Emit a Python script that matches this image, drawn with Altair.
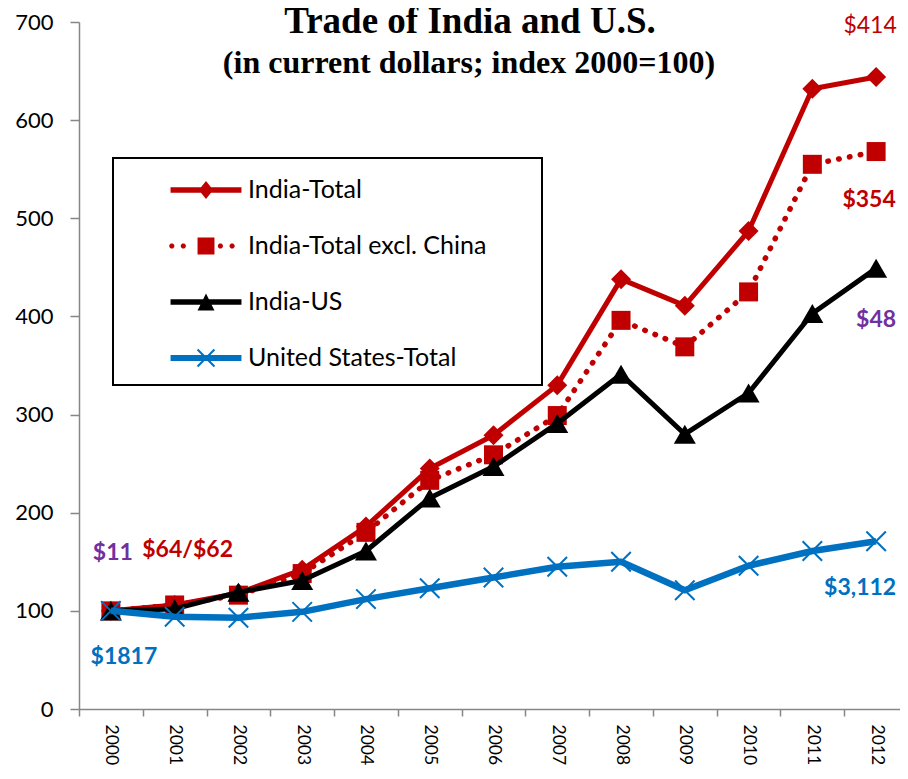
import math
import altair as alt
import pandas as pd

# ---------------- data ----------------
years = [str(y) for y in range(2000, 2013)]
series_names = ["India-Total", "India-Total excl. China", "India-US", "United States-Total"]
india_total = [100, 106, 118, 142, 186, 245, 279, 330, 438, 411, 487, 632, 644]
india_excl_china = [100, 106, 116, 138, 180, 233, 259, 299, 396, 369, 425, 555, 568]
india_us = [100, 102, 119, 131, 161, 215, 247, 291, 341, 280, 322, 403, 449]
us_total = [100, 94, 93, 99, 112, 123, 134, 145, 150, 121, 146, 161, 171]
series_colors = ["#C00000", "#C00000", "#000000", "#0070C0"]

df = pd.DataFrame({
    "year": years * 4,
    "series": [s for s in series_names for _ in years],
    "value": india_total + india_excl_china + india_us + us_total,
})

FONT = "Lato"
AXIS_GRAY = "#868686"

# ---------------- encodings ----------------
x_enc = alt.X(
    "year:O",
    bandPosition=0.5,
    scale=alt.Scale(type="band", paddingInner=0, paddingOuter=0),
    axis=alt.Axis(
        title=None, labelAngle=90, labelAlign="left", labelBaseline="middle",
        tickBand="extent", labelFont=FONT, labelFontSize=17.5, labelColor="black",
        domainColor=AXIS_GRAY, domainWidth=1.5, tickColor=AXIS_GRAY, tickWidth=1.5,
        tickSize=7, labelPadding=8, grid=False,
    ),
)
y_enc = alt.Y(
    "value:Q",
    scale=alt.Scale(domain=[0, 700], nice=False),
    axis=alt.Axis(
        title=None, values=list(range(0, 701, 100)), labelFont=FONT, labelFontSize=22,
        labelColor="black", domainColor=AXIS_GRAY, domainWidth=1.5, tickColor=AXIS_GRAY,
        tickWidth=1.5, tickSize=9, labelPadding=17, grid=False,
    ),
)

X_PATH = "M-1,-1L1,1M-1,1L1,-1"


def series_layers(name, color, line_kw, point_kw):
    base = alt.Chart(df).transform_filter(alt.datum.series == name)
    line = base.mark_line(color=color, strokeJoin="round", **line_kw).encode(x=x_enc, y=y_enc)
    pts = base.mark_point(color=color, opacity=1, **point_kw).encode(x=x_enc, y=y_enc)
    return [line, pts]


layers = []
layers += series_layers("India-Total", series_colors[0], dict(strokeWidth=5),
                        dict(shape="diamond", filled=True, size=400))
layers += series_layers("India-Total excl. China", series_colors[1],
                        dict(strokeWidth=5.5, strokeDash=[0.5, 10.5], strokeCap="round"),
                        dict(shape="square", filled=True, size=361))
layers += series_layers("India-US", series_colors[2], dict(strokeWidth=5),
                        dict(shape="triangle-up", filled=True, size=484))
layers += series_layers("United States-Total", series_colors[3], dict(strokeWidth=6.5),
                        dict(shape=X_PATH, filled=False, strokeWidth=2, size=380))


# ---------------- legend (custom symbols: line + marker) ----------------
def rect(x0, x1, h):
    return f"M{x0},{-h}H{x1}V{h}H{x0}Z"


def octagon(cx, r):
    pts = []
    for k in range(8):
        a = math.radians(22.5 + 45 * k)
        pts.append(f"{cx + r * math.cos(a):.3f},{r * math.sin(a):.3f}")
    return "M" + "L".join(pts) + "Z"


a, e = 0.47, 0.04
x_cross = (f"M{-a-e},{-a+e}L{-a+e},{-a-e}L{a+e},{a-e}L{a-e},{a+e}Z"
           f"M{-a+e},{a+e}L{-a-e},{a-e}L{a-e},{-a-e}L{a+e},{-a+e}Z")
legend_paths = [
    rect(-1.97, 1.97, 0.15) + "M0,-0.5L0.4,0L0,0.5L-0.4,0Z",
    "".join(octagon(c, 0.15) for c in [-1.9, -1.26, 0.8, 1.45]) + rect(-0.47, 0.47, 0.47),
    rect(-1.97, 1.97, 0.15) + "M0,-0.47L0.47,0.47L-0.47,0.47Z",
    rect(-1.97, 1.97, 0.17) + x_cross,
]

leg = alt.Legend(
    title="·", titleOrient="right", titleOpacity=0, titleFontSize=4, titlePadding=40,
    orient="none", legendX=34, legendY=136, padding=14, rowPadding=25,
    symbolSize=1296, symbolOffset=61, labelOffset=24, symbolStrokeWidth=0,
    labelFont=FONT, labelFontSize=25, labelColor="black", labelLimit=500,
    strokeColor="black", fillColor="white", cornerRadius=0,
)

legend_layer = alt.Chart(df).transform_filter("false").mark_point(
    filled=True, opacity=1, strokeWidth=0
).encode(
    x=x_enc, y=y_enc,
    color=alt.Color("series:N", scale=alt.Scale(domain=series_names, range=series_colors), legend=leg),
    shape=alt.Shape("series:N", scale=alt.Scale(domain=series_names, range=legend_paths), legend=leg),
)
layers.append(legend_layer)

# ---------------- annotations ----------------
one = pd.DataFrame({"k": [0]})


def note(text, year, value, color, dx=0, align="center", bold=True):
    return alt.Chart(one).mark_text(
        text=text, color=color, font=FONT, fontSize=23, fontWeight="bold" if bold else "normal",
        align=align, baseline="middle", dx=dx,
    ).encode(
        x=alt.XDatum(year, type="ordinal", bandPosition=0.5),
        y=alt.YDatum(value, type="quantitative"),
    )


PURPLE, RED, BLUE = "#7030A0", "#C00000", "#0070C0"
layers += [
    note("$11", "2000", 159, PURPLE, dx=2),
    note("$64/$62", "2001", 162, RED, dx=13),
    note("$1817", "2000", 53, BLUE, dx=13),
    note("$414", "2012", 696, RED, dx=-6, bold=False),
    note("$354", "2012", 519, RED, dx=-7),
    note("$48", "2012", 396, PURPLE, dx=-20, align="left"),
    note("$3,112", "2012", 123, BLUE, dx=-52, align="left"),
]

# ---------------- title ----------------
layers += [
    alt.Chart(one).mark_text(
        text="Trade of India and U.S.", font="Liberation Serif", fontWeight="bold",
        fontSize=37, color="black", align="center", baseline="alphabetic",
    ).encode(x=alt.value(391), y=alt.value(11)),
    alt.Chart(one).mark_text(
        text="(in current dollars; index 2000=100)", font="Liberation Serif", fontWeight="bold",
        fontSize=32, color="black", align="center", baseline="alphabetic",
    ).encode(x=alt.value(390), y=alt.value(51)),
]

chart = alt.layer(*layers).properties(
    width=829, height=687,
    autosize=alt.AutoSizeParams(type="none"),
    padding={"left": 71, "top": 14, "right": -8, "bottom": 57},
    background="white",
).configure_view(stroke=None).configure_legend(strokeWidth=2)

chart.save("out.html", embed_options={"renderer": "svg", "actions": False})
